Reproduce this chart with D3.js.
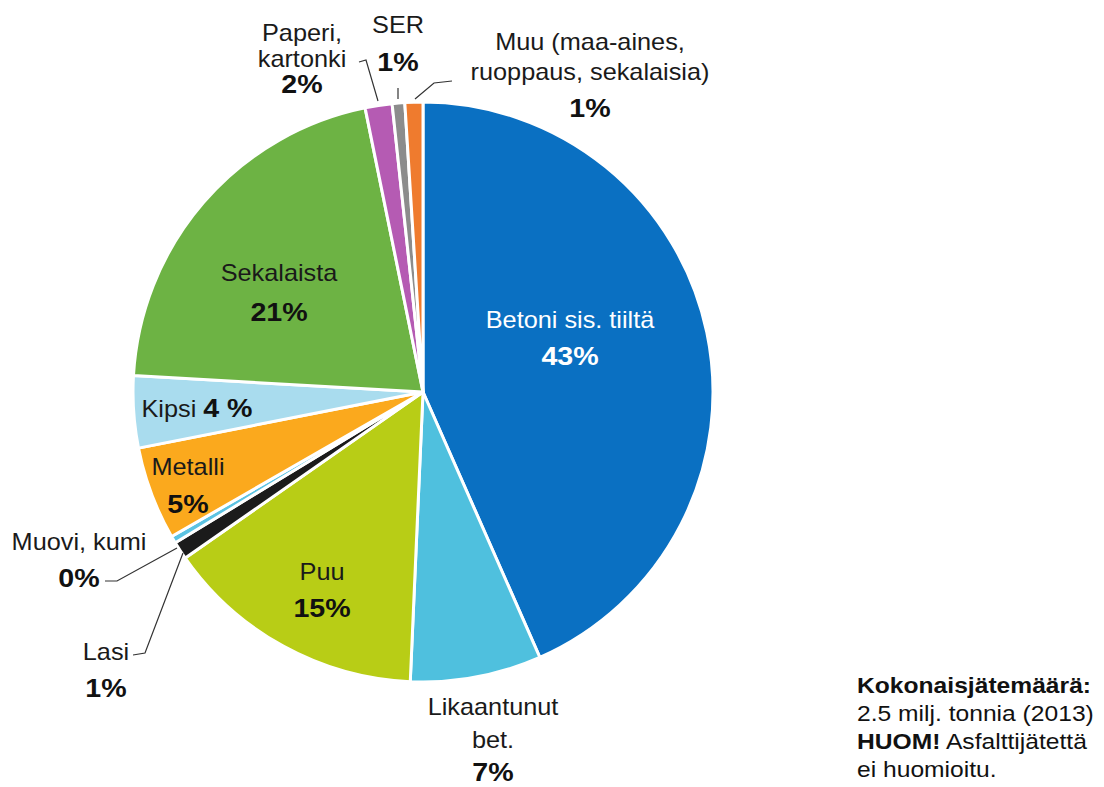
<!DOCTYPE html>
<html><head><meta charset="utf-8">
<script src="https://cdn.jsdelivr.net/npm/d3@7"></script>
<style>
html,body{margin:0;padding:0;background:#fff;}
svg{display:block;font-family:"Liberation Sans",Arial,sans-serif;}
</style></head>
<body>
<svg id="chart" width="1104" height="787"></svg>
<script>
// ---- data ----
const categories = ["Betoni sis. tiiltä","Likaantunut bet.","Puu","Lasi","Muovi, kumi","Metalli","Kipsi","Sekalaista","Paperi, kartonki","SER","Muu (maa-aines, ruoppaus, sekalaisia)"];
const shares = [43.4, 7.3, 14.6, 1.0, 0.4, 5.2, 4.0, 20.9, 1.5, 0.7, 1.0];
const pctLabels = ["43%","7%","15%","1%","0%","5%","4 %","21%","2%","1%","1%"];
const colors = ["#0a70c2","#4fc0de","#b8cd16","#1b1b1b","#5cc3e2","#fba91d","#a9dcee","#6db344","#b55bb3","#8c8c8c","#ef7b2e"];
const noteLines = [
  [["Kokonaisjätemäärä:",true]],
  [["2.5 milj. tonnia (2013)",false]],
  [["HUOM!",true],[" Asfalttijätettä",false]],
  [["ei huomioitu.",false]]
];

// ---- layout (not data) ----
const cx = 423, cy = 392, R = 290;
const labelLayout = [
  {lines:["Betoni sis. tiiltä"], x:570, y:328, step:37, fill:"#ffffff"},
  {lines:["Likaantunut","bet."], x:493, y:715, step:33, fill:"#1a1a1a"},
  {lines:["Puu"], x:322, y:580, step:37, fill:"#1a1a1a"},
  {lines:["Lasi"], x:106, y:660, step:37, fill:"#1a1a1a"},
  {lines:["Muovi, kumi"], x:79, y:550, step:37, fill:"#1a1a1a"},
  {lines:["Metalli"], x:188, y:475, step:38, fill:"#1a1a1a"},
  {lines:["Kipsi"], x:197, y:417, step:0, fill:"#1a1a1a", inline:true},
  {lines:["Sekalaista"], x:279, y:281, step:40, fill:"#1a1a1a"},
  {lines:["Paperi,","kartonki"], x:302, y:41, step:26, fill:"#1a1a1a"},
  {lines:["SER"], x:398, y:33, step:38, fill:"#1a1a1a"},
  {lines:["Muu (maa-aines,","ruoppaus, sekalaisia)"], x:590, y:50, step:30, fill:"#1a1a1a", pctDy:37}
];
const leaders = {
  3: [[133,655],[145,653],[183,553]],
  4: [[105,581],[117,581],[177,548]],
  8: [[359,62],[366,60],[378,101]],
  9: [[398,88],[398,99]],
  10:[[452,81],[434,83],[415,99]]
};

const svg = d3.select("#chart");
const pie = d3.pie().sort(null).value(d => d)(shares);
const arc = d3.arc().innerRadius(0).outerRadius(R);
const color = d3.scaleOrdinal().domain(categories).range(colors);

const g = svg.append("g").attr("transform", `translate(${cx},${cy})`);
g.selectAll("path").data(pie).join("path")
  .attr("d", arc)
  .attr("fill", (d,i) => color(categories[i]))
  .attr("stroke", "#fff").attr("stroke-width", 3).attr("stroke-linejoin","round");

const line = d3.line();
Object.entries(leaders).forEach(([k,pts]) => {
  svg.append("path").attr("d", line(pts)).attr("fill","none")
    .attr("stroke","#333").attr("stroke-width",1.2);
});

const SX = 1.1;
function txt(x, y, anchor, sx) {
  return svg.append("text").attr("transform", `translate(${x},${y}) scale(${sx},1)`)
    .attr("text-anchor", anchor);
}
const nameSize = 23, pctSize = 26;
labelLayout.forEach((L,i) => {
  const pctFill = L.fill === "#ffffff" ? "#ffffff" : "#111";
  if (L.inline) {
    const t = txt(L.x, L.y, "middle", SX);
    t.append("tspan").attr("font-size",nameSize).attr("fill",L.fill).text(L.lines[0] + " ");
    t.append("tspan").attr("font-size",pctSize).attr("font-weight","bold").attr("fill",pctFill).text(pctLabels[i]);
    return;
  }
  L.lines.forEach((s,j) => {
    txt(L.x, L.y + j*L.step, "middle", SX).attr("font-size",nameSize).attr("fill",L.fill).text(s);
  });
  const pd = L.pctDy || (L.step || 37);
  txt(L.x, L.y + (L.lines.length-1)*L.step + pd, "middle", SX)
    .attr("font-size",pctSize).attr("font-weight","bold").attr("fill",pctFill).text(pctLabels[i]);
});

noteLines.forEach((parts,j) => {
  const t = txt(857, 693 + j*28, "start", 1.12).attr("font-size",22).attr("fill","#111");
  parts.forEach(([s,b]) => t.append("tspan").attr("font-weight", b ? "bold" : "normal").text(s));
});
</script>
</body></html>
